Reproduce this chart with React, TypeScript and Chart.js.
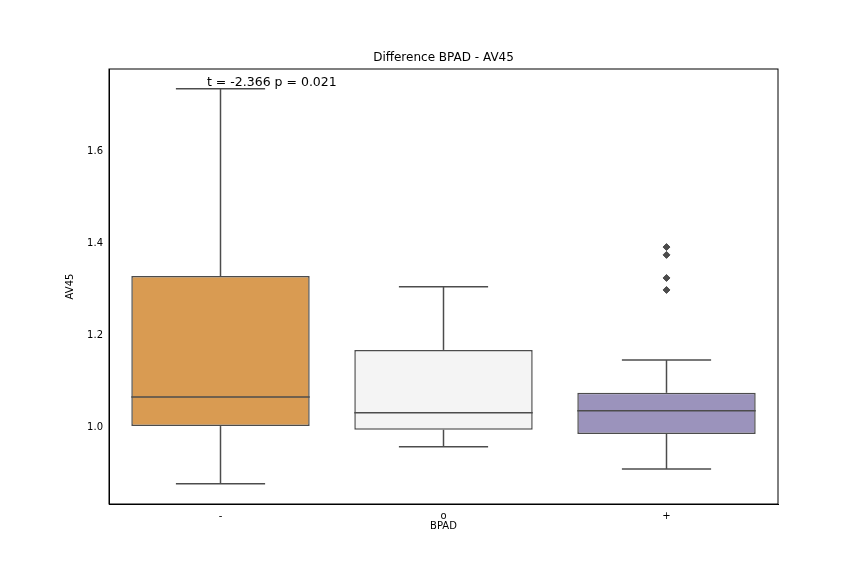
import React, { useEffect, useRef } from 'react';
import { Chart, registerables } from 'chart.js';

Chart.register(...registerables);

const categories = ['-', 'o', '+'];
const q1 = [1.004, 0.996, 0.987];
const q3 = [1.329, 1.169, 1.076];
const medians = [1.067, 1.033, 1.037];
const whiskLow = [0.879, 0.959, 0.911];
const whiskHigh = [1.735, 1.306, 1.147];
const outliers = [
  { x: '+', y: 1.392 },
  { x: '+', y: 1.375 },
  { x: '+', y: 1.325 },
  { x: '+', y: 1.299 },
];
const yTicks = [1.0, 1.2, 1.4, 1.6];
const boxColors = ['#d99b52', '#f4f4f4', '#9b93bc'];
const edge = '#4c4c4c';

const boxPlugin = {
  id: 'boxParts',
  afterDatasetsDraw(chart: any) {
    const { ctx, chartArea } = chart;
    const y = chart.scales.y;
    const meta = chart.getDatasetMeta(0);
    ctx.save();
    ctx.strokeStyle = edge;
    ctx.lineWidth = 1.5;
    meta.data.forEach((bar: any, i: number) => {
      const half = bar.width / 2;
      const line = (x1: number, y1: number, x2: number, y2: number) => {
        ctx.beginPath();
        ctx.moveTo(x1, y1);
        ctx.lineTo(x2, y2);
        ctx.stroke();
      };
      const yq1 = y.getPixelForValue(q1[i]);
      const yq3 = y.getPixelForValue(q3[i]);
      const ylo = y.getPixelForValue(whiskLow[i]);
      const yhi = y.getPixelForValue(whiskHigh[i]);
      const ym = y.getPixelForValue(medians[i]);
      line(bar.x, yq3, bar.x, yhi);
      line(bar.x, yq1, bar.x, ylo);
      line(bar.x - half / 2, yhi, bar.x + half / 2, yhi);
      line(bar.x - half / 2, ylo, bar.x + half / 2, ylo);
      line(bar.x - half, ym, bar.x + half, ym);
    });
    // frame
    ctx.strokeStyle = '#000';
    ctx.lineWidth = 1;
    ctx.strokeRect(chartArea.left, chartArea.top, chartArea.right - chartArea.left, chartArea.bottom - chartArea.top);
    // title and annotation
    ctx.fillStyle = '#000';
    ctx.font = '12px "DejaVu Sans"';
    ctx.textAlign = 'center';
    ctx.textBaseline = 'bottom';
    ctx.fillText('Difference BPAD - AV45', (chartArea.left + chartArea.right) / 2, chartArea.top - 5);
    ctx.textAlign = 'left';
    ctx.textBaseline = 'middle';
    ctx.font = '12.5px "DejaVu Sans"';
    ctx.fillText('t = -2.366 p = 0.021', 207, 83);
    ctx.restore();
  },
};

export default function App() {
  const ref = useRef<HTMLCanvasElement>(null);
  useEffect(() => {
    if (!ref.current) return;
    const chart = new Chart(ref.current, {
      type: 'bar',
      data: {
        labels: categories,
        datasets: [
          {
            type: 'bar',
            data: categories.map((_, i) => [q1[i], q3[i]]) as any,
            backgroundColor: boxColors,
            borderColor: edge,
            borderWidth: 1.5,
            borderSkipped: false,
            barPercentage: 0.8,
            categoryPercentage: 1,
          },
          {
            type: 'line',
            data: outliers as any,
            showLine: false,
            pointStyle: 'rectRot',
            pointRadius: 3.5,
            backgroundColor: edge,
            borderColor: edge,
          },
        ],
      },
      options: {
        animation: false,
        responsive: false,
        layout: { padding: { left: 60, right: 86, top: 69, bottom: 40 } },
        plugins: { legend: { display: false }, tooltip: { enabled: false } },
        scales: {
          x: {
            grid: { display: false, drawTicks: true, tickLength: 4 },
            border: { color: '#000' },
            ticks: { color: '#000', font: { family: 'DejaVu Sans', size: 10 }, padding: 2 },
            title: { display: true, text: 'BPAD', color: '#000', font: { family: 'DejaVu Sans', size: 10 } },
            afterFit: (s: any) => { s.height = 32; },
          },
          y: {
            min: 0.835,
            max: 1.778,
            grid: { display: false, drawTicks: true, tickLength: 4 },
            border: { color: '#000' },
            afterBuildTicks: (s: any) => { s.ticks = yTicks.map((v) => ({ value: v })); },
            ticks: {
              color: '#000',
              font: { family: 'DejaVu Sans', size: 10 },
              padding: 2,
              callback: (v: any) => Number(v).toFixed(1),
            },
            title: { display: true, text: 'AV45', color: '#000', font: { family: 'DejaVu Sans', size: 10 } },
            afterFit: (s: any) => { s.width = 49; },
          },
        },
      },
      plugins: [boxPlugin],
    });
    return () => chart.destroy();
  }, []);
  return (
    <div style={{ position: 'fixed', left: 0, top: 0, width: 864, height: 576, background: '#fff' }}>
      <canvas ref={ref} width={864} height={576} />
    </div>
  );
}
